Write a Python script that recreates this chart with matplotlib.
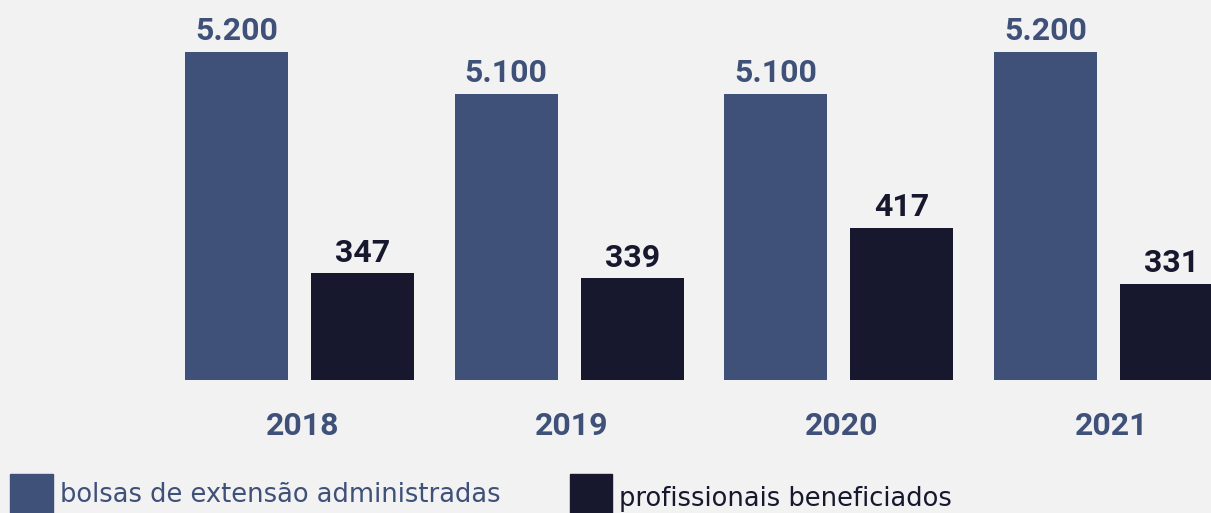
import matplotlib
matplotlib.use("Agg")
import matplotlib.pyplot as plt
from matplotlib.patches import Rectangle
import numpy as np

years = ["2018", "2019", "2020", "2021"]
bolsas = [5200, 5100, 5100, 5200]
profissionais = [347, 339, 417, 331]
bolsas_labels = ["5.200", "5.100", "5.100", "5.200"]
prof_labels = ["347", "339", "417", "331"]
legend_labels = ["bolsas de extensão administradas", "profissionais beneficiados"]

BLUE = "#3f5079"
DARK = "#17182e"
BG = "#f2f2f2"

W, H = 1211, 513
fig = plt.figure(figsize=(W / 100, H / 100), dpi=100)
fig.patch.set_facecolor(BG)

ax = fig.add_axes([0, (H - 380) / H, 1, 380 / H])
ax2 = ax.twinx()
for a in (ax, ax2):
    a.set_facecolor("none")
    for s in a.spines.values():
        s.set_visible(False)
    a.set_xticks([])
    a.set_yticks([])
ax.set_facecolor(BG)

x = np.arange(len(years))
unit = 269.67
off = 63 / unit
w = 103 / unit
ax.set_xlim(-299.5 / unit, (W - 299.5) / unit)

ax.set_ylim(4419, 4419 + 380 / 0.42)
ax2.set_ylim(183.5, 183.5 + 380 / 0.653)

ax.bar(x - off, bolsas, width=w, color=BLUE)
ax2.bar(x + off, profissionais, width=w, color=DARK)

vfont = dict(family=["Roboto", "DejaVu Sans"], fontweight="bold", fontsize=23)
for xi, v, lab in zip(x, bolsas, bolsas_labels):
    ax.annotate(lab, (xi - off, v), xytext=(0, 4), textcoords="offset points",
                ha="center", va="bottom", color=BLUE, **vfont)
for xi, v, lab in zip(x, profissionais, prof_labels):
    ax2.annotate(lab, (xi + off, v), xytext=(0, 4), textcoords="offset points",
                 ha="center", va="bottom", color=DARK, **vfont)

for xi, y in zip(x, years):
    ax.annotate(y, (xi + 0.01, 4419), xytext=(0, -33), textcoords="offset points",
                ha="center", va="center", color=BLUE, annotation_clip=False, **vfont)

# legend
fig.add_artist(Rectangle((10 / W, 0), 43 / W, 39 / H, transform=fig.transFigure,
                         color=BLUE, clip_on=False))
fig.add_artist(Rectangle((570 / W, 0), 42 / W, 39 / H, transform=fig.transFigure,
                         color=DARK, clip_on=False))
lfont = dict(family=["DejaVu Sans"], fontsize=18.5)
fig.text(60 / W, 18 / H, legend_labels[0], ha="left", va="center", color=BLUE, **lfont)
fig.text(619 / W, 14 / H, legend_labels[1], ha="left", va="center", color=DARK, **lfont)

fig.savefig("out.png", dpi=100, facecolor=BG)
